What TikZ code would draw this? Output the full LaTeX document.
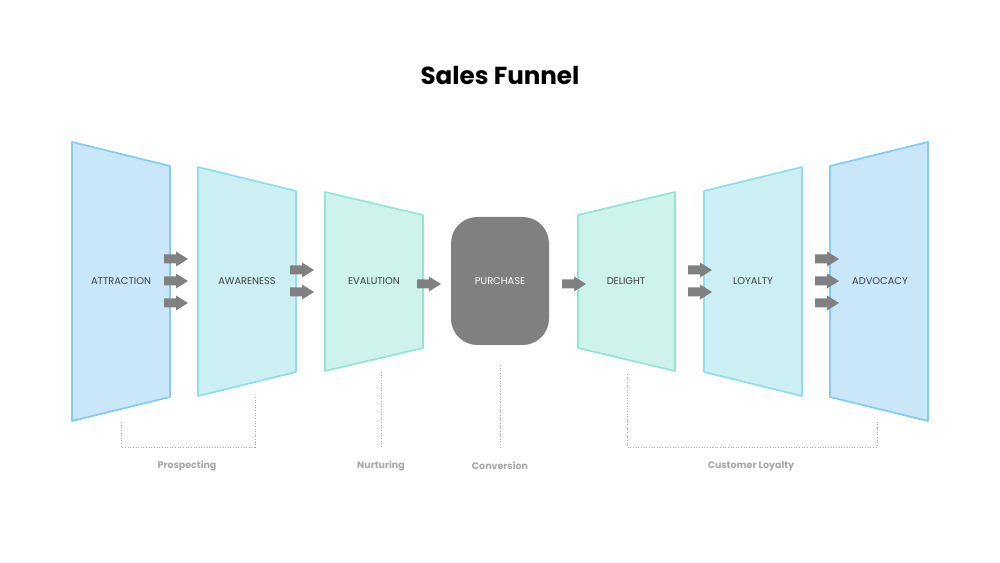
\documentclass[tikz,border=0pt]{standalone}
\usepackage{fontspec}
\setmainfont{Poppins}
\usetikzlibrary{calc,positioning}
\definecolor{skyfill}{HTML}{C9E7F9}
\definecolor{skyline}{HTML}{82CDF3}
\definecolor{aquafill}{HTML}{CCEFF4}
\definecolor{aqualine}{HTML}{8EDEEB}
\definecolor{mintfill}{HTML}{CDF3EC}
\definecolor{mintline}{HTML}{93E6D5}
\definecolor{blockgray}{HTML}{808080}
\definecolor{notegray}{HTML}{A6A6A6}
\definecolor{textgray}{HTML}{3F3F3F}
\tikzstyle{sky}=[fill=skyfill,draw=skyline,line width=1pt,line join=round]
\tikzstyle{aqua}=[fill=aquafill,draw=aqualine,line width=1pt,line join=round]
\tikzstyle{mint}=[fill=mintfill,draw=mintline,line width=1pt,line join=round]
\tikzstyle{stage}=[font=\fontsize{5.6}{6}\selectfont,text=textgray]
\tikzstyle{phase}=[font=\fontsize{5.4}{6}\selectfont\bfseries,text=notegray]
\tikzstyle{bracket}=[draw=notegray,line width=0.5pt,densely dotted]
\tikzstyle{pointer}=[fill=blockgray]

\begin{document}
\begin{tikzpicture}[x=0.02cm,y=-0.02cm]

\useasboundingbox (0,0) rectangle (1000,563);

\node[font=\fontsize{14}{16}\selectfont\bfseries] (title) at (500,76) {Sales Funnel};

% % % % % % % % % % panels
\draw[sky]  (72,142) -- (170,166) -- (170,397) -- (72,421) -- cycle;
\draw[aqua] (198,167) -- (296,191) -- (296,372) -- (198,396) -- cycle;
\draw[mint] (325,192) -- (423,215) -- (423,348) -- (325,371) -- cycle;
\draw[mint] (578,215) -- (675,192) -- (675,371) -- (578,348) -- cycle;
\draw[aqua] (704,191) -- (802,167) -- (802,396) -- (704,372) -- cycle;
\draw[sky]  (830,166) -- (928,142) -- (928,421) -- (830,397) -- cycle;
\fill[blockgray,rounded corners=15] (451,217) rectangle (549,345);

\node[stage] (attraction) at (121,281) {ATTRACTION};
\node[stage] (awareness) at (247,281) {AWARENESS};
\node[stage] (evalution) at (374,281) {EVALUTION};
\node[stage,text=white] (purchase) at (500,281) {PURCHASE};
\node[stage] (delight) at (626,281) {DELIGHT};
\node[stage] (loyalty) at (753,281) {LOYALTY};
\node[stage] (advocacy) at (880,281) {ADVOCACY};

% % % % % % % % % % arrows
\foreach \x/\y in {164/259,164/281,164/303,290/270,290/292,417/284,562/284,
                   688/270,688/292,815/259,815/281,815/303} {
\fill[pointer] (\x,\y-4.5) -- ++(12,0) -- ++(0,-3) -- ++(12,7.5)
   -- ++(-12,7.5) -- ++(0,-3) -- ++(-12,0) -- cycle;
}

% % % % % % % % % % brackets
\draw[bracket] (121,422) -- (121,447) -- (255,447) -- (255,397);
\draw[bracket] (381,372) -- (381,447);
\draw[bracket] (500,365) -- (500,447);
\draw[bracket] (627,374) -- (627,447) -- (877,447) -- (877,422);

\node[phase] (prospecting) at (187,466) {Prospecting};
\node[phase] (nurturing) at (381,466) {Nurturing};
\node[phase] (conversion) at (500,466) {Conversion};
\node[phase] (customer) at (751,466) {Customer Loyalty};

\end{tikzpicture}
\end{document}
